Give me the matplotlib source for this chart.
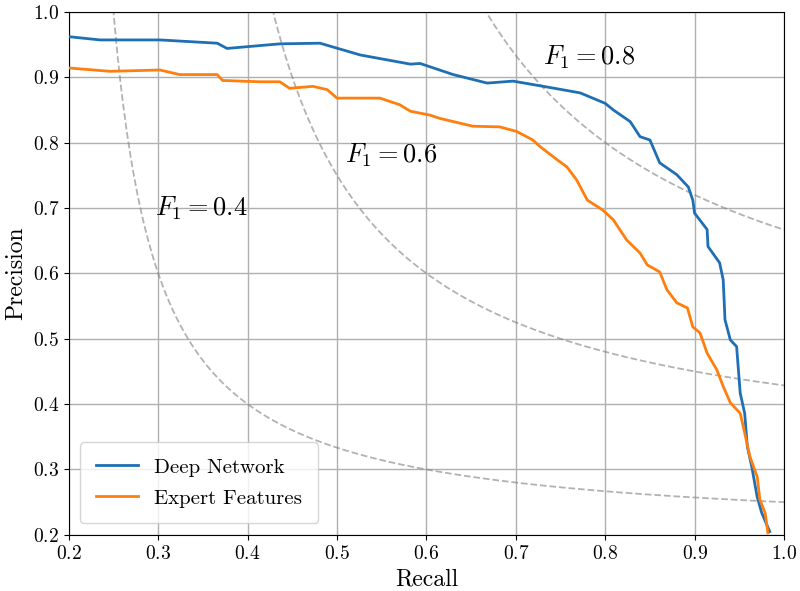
import numpy as np
import matplotlib
matplotlib.use('Agg')
import matplotlib.pyplot as plt

plt.rcParams['font.family'] = 'serif'
plt.rcParams['font.serif'] = ['cmr10', 'DejaVu Serif']
plt.rcParams['mathtext.fontset'] = 'cm'
plt.rcParams['axes.formatter.use_mathtext'] = True

# Precision-recall points
deep_recall = [0.200, 0.235, 0.302, 0.366, 0.377, 0.436, 0.481, 0.526, 0.582, 0.593,
               0.630, 0.668, 0.697, 0.735, 0.772, 0.800, 0.809, 0.828, 0.839, 0.850,
               0.861, 0.880, 0.893, 0.898, 0.900, 0.914, 0.915, 0.928, 0.932, 0.934,
               0.940, 0.947, 0.951, 0.956, 0.959, 0.964, 0.970, 0.975, 0.984]
deep_precision = [0.962, 0.957, 0.957, 0.952, 0.944, 0.951, 0.952, 0.934, 0.920, 0.921,
                  0.904, 0.891, 0.894, 0.885, 0.876, 0.860, 0.850, 0.832, 0.809, 0.804,
                  0.769, 0.751, 0.732, 0.712, 0.692, 0.667, 0.641, 0.616, 0.590, 0.529,
                  0.498, 0.488, 0.417, 0.386, 0.335, 0.304, 0.258, 0.234, 0.205]

expert_recall = [0.201, 0.246, 0.302, 0.324, 0.366, 0.372, 0.414, 0.436, 0.447, 0.473,
                 0.489, 0.500, 0.548, 0.570, 0.582, 0.604, 0.615, 0.652, 0.682, 0.701,
                 0.719, 0.727, 0.746, 0.757, 0.768, 0.780, 0.797, 0.809, 0.824, 0.839,
                 0.847, 0.861, 0.869, 0.880, 0.892, 0.898, 0.906, 0.914, 0.925, 0.932,
                 0.940, 0.951, 0.956, 0.962, 0.970, 0.973, 0.979, 0.982]
expert_precision = [0.914, 0.909, 0.911, 0.904, 0.904, 0.895, 0.893, 0.893, 0.883, 0.886,
                    0.881, 0.868, 0.868, 0.858, 0.848, 0.842, 0.837, 0.825, 0.824, 0.817,
                    0.804, 0.794, 0.774, 0.763, 0.743, 0.712, 0.697, 0.682, 0.651, 0.631,
                    0.613, 0.602, 0.575, 0.555, 0.547, 0.518, 0.509, 0.478, 0.452, 0.427,
                    0.402, 0.386, 0.356, 0.319, 0.289, 0.254, 0.233, 0.203]

f1_levels = [0.4, 0.6, 0.8]
f1_label_pos = [(0.296, 0.70), (0.509, 0.78), (0.730, 0.93)]

fig = plt.figure(figsize=(8, 5.91), dpi=100)
ax = fig.add_axes([0.086, 0.095, 0.894, 0.885])

# iso-F1 reference curves
for f, (lx, ly) in zip(f1_levels, f1_label_pos):
    r = np.linspace(f / 2 + 0.005, 1.0, 400)
    p = f * r / (2 * r - f)
    ax.plot(r, p, color='gray', alpha=0.6, ls='--', lw=1.3, zorder=2)
    ax.text(lx, ly, r'$F_1 = %.1f$' % f, fontsize=19, va='center', ha='left')

ax.plot(deep_recall, deep_precision, color='#1f6fb4', lw=2, label='Deep Network', zorder=3)
ax.plot(expert_recall, expert_precision, color='#ff7f0e', lw=2, label='Expert Features', zorder=3)

ax.set_xlim(0.2, 1.0)
ax.set_ylim(0.2, 1.0)
ax.set_xticks(np.arange(0.2, 1.01, 0.1))
ax.set_yticks(np.arange(0.2, 1.01, 0.1))
ax.tick_params(labelsize=14)
ax.grid(True, color='#b0b0b0', lw=1)
ax.set_xlabel('Recall', fontsize=17)
ax.set_ylabel('Precision', fontsize=17)
ax.legend(loc='lower left', fontsize=15, borderaxespad=0.55, borderpad=0.75,
          labelspacing=0.6)

fig.savefig('out.png', dpi=100)
